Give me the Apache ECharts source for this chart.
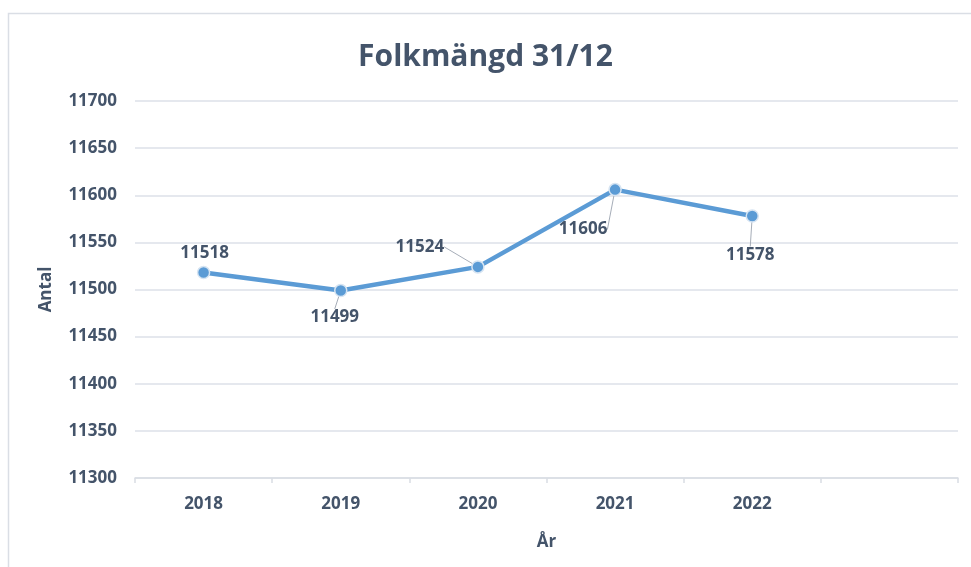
<!DOCTYPE html>
<html>
<head>
<meta charset="utf-8">
<script src="https://cdn.jsdelivr.net/npm/echarts@6/dist/echarts.min.js"></script>
<style>
html,body{margin:0;padding:0;background:#fff;}
#c{width:971px;height:567px;}
</style>
</head>
<body>
<div id="c"></div>
<script>
var title = 'Folkmängd 31/12';
var categories = ['2018', '2019', '2020', '2021', '2022', ''];
var values = [11518, 11499, 11524, 11606, 11578];
var yTicks = { min: 11300, max: 11700, step: 50 };
var yName = 'Antal';
var xName = 'År';

// label offsets (px) relative to each point – style only
var labelOffsets = [[1, -19], [-6, 27], [-58, -20], [-32, 40], [-2, 39]];
var showLeader = [false, true, true, true, true];

var textColor = '#44546A';
var font = 'Open Sans';

var chart = echarts.init(document.getElementById('c'), null, { renderer: 'canvas' });
chart.setOption({
  animation: false,
  backgroundColor: '#fff',
  graphic: [{
    type: 'rect',
    shape: { x: 8.5, y: 13.5, width: 1000, height: 700 },
    style: { fill: 'none', stroke: '#dadee5', lineWidth: 1.5 },
    silent: true, z: -1
  }],
  title: {
    text: title,
    left: 'center',
    top: 37,
    textStyle: { fontFamily: font, fontWeight: 'bold', fontSize: 30, color: textColor }
  },
  grid: { left: 135, right: 13, top: 101, bottom: 89 },
  xAxis: {
    type: 'category',
    data: categories,
    boundaryGap: true,
    name: xName,
    nameLocation: 'middle',
    nameGap: 56,
    nameTextStyle: { fontFamily: font, fontWeight: 'bold', fontSize: 17, color: textColor },
    axisLine: { lineStyle: { color: '#d9dde3', width: 1.5 } },
    axisTick: { show: true, length: 5, lineStyle: { color: '#d9dde3', width: 1.5 } },
    axisLabel: { margin: 18, fontFamily: font, fontWeight: 'bold', fontSize: 17, color: textColor },
    splitLine: { show: false }
  },
  yAxis: {
    type: 'value',
    min: yTicks.min,
    max: yTicks.max,
    interval: yTicks.step,
    name: yName,
    nameLocation: 'middle',
    nameGap: 80,
    nameTextStyle: { fontFamily: font, fontWeight: 'bold', fontSize: 17, color: textColor },
    axisLine: { show: false },
    axisTick: { show: false },
    axisLabel: {
      margin: 18, fontFamily: font, fontWeight: 'bold', fontSize: 17, color: textColor,
      formatter: function (v) { return String(v); }
    },
    splitLine: { lineStyle: { color: '#dde1e8', width: 1.5 } }
  },
  series: [{
    type: 'line',
    data: values.map(function (v, i) {
      return { value: v, labelLine: { show: showLeader[i] } };
    }),
    symbol: 'circle',
    symbolSize: 12,
    lineStyle: { color: '#5B9BD5', width: 4.5 },
    itemStyle: { color: '#5B9BD5', borderColor: '#d6e4f2', borderWidth: 1.5 },
    label: {
      show: true,
      position: 'inside',
      fontFamily: font,
      fontWeight: 'bold',
      fontSize: 17,
      color: textColor
    },
    labelLine: { show: true, lineStyle: { color: '#a6adb8', width: 1 } },
    labelLayout: function (params) {
      var o = labelOffsets[params.dataIndex];
      var r = params.rect;
      return {
        x: r.x + r.width / 2 + o[0],
        y: r.y + r.height / 2 + o[1],
        align: 'center',
        verticalAlign: 'middle'
      };
    }
  }]
});
</script>
</body>
</html>
